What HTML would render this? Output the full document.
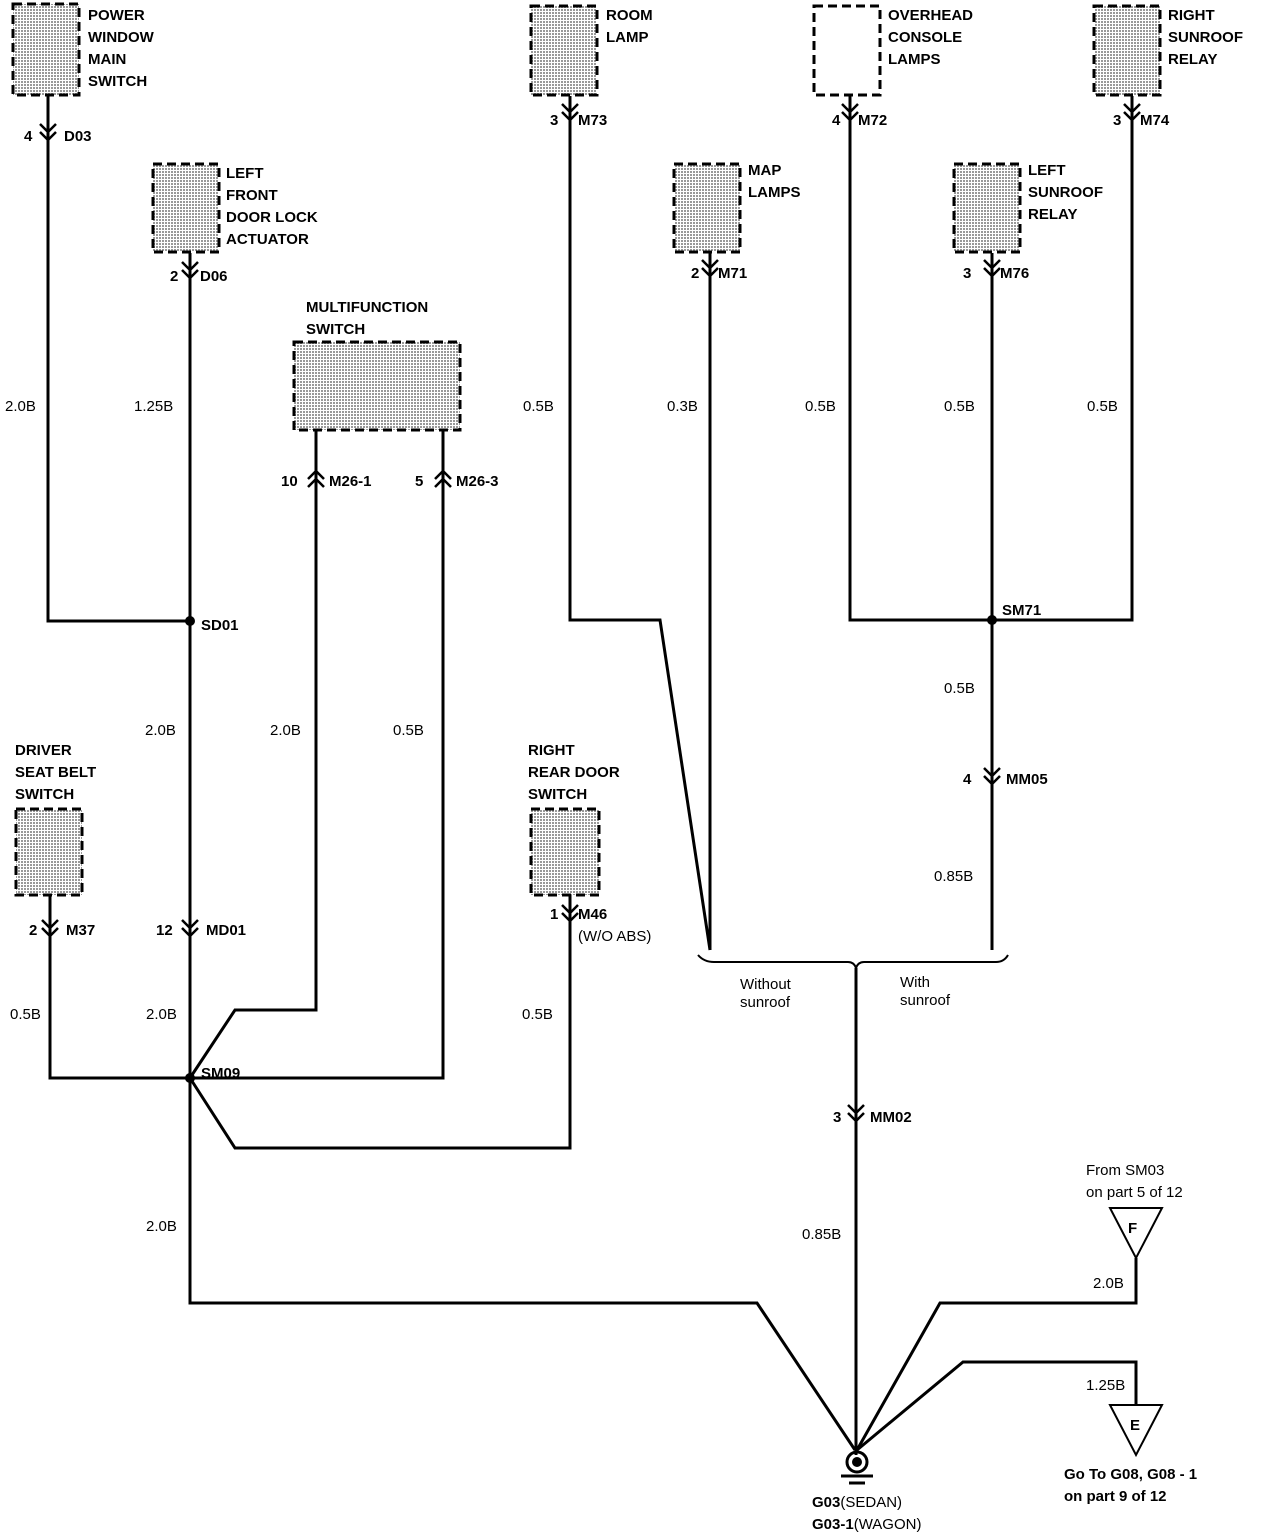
<!DOCTYPE html>
<html><head><style>
body{margin:0;background:#fff}
svg{display:block}
text{font-family:"Liberation Sans",sans-serif;font-size:15px;fill:#000}
.b{font-weight:bold;font-size:16px}
</style></head><body>
<svg width="1280" height="1536" viewBox="0 0 1280 1536" xmlns="http://www.w3.org/2000/svg">
<defs>
<pattern id="dots" width="3" height="3" patternUnits="userSpaceOnUse"><rect width="3" height="3" fill="#fff"/><rect width="2" height="2" fill="#999"/></pattern>
</defs>
<g stroke="#000" stroke-width="3" fill="url(#dots)" stroke-dasharray="9,5">
<rect x="13" y="4" width="66" height="91"/>
<rect x="153" y="164" width="66" height="88"/>
<rect x="294" y="342" width="166" height="88"/>
<rect x="16" y="809" width="66" height="86"/>
<rect x="531" y="809" width="68" height="86"/>
<rect x="531" y="6" width="66" height="89"/>
<rect x="674" y="164" width="66" height="88"/>
<rect x="814" y="6" width="66" height="89" fill="#fff"/>
<rect x="1094" y="6" width="66" height="89"/>
<rect x="954" y="164" width="66" height="88"/>
</g>
<g stroke="#000" stroke-width="3" fill="none">
<polyline points="48,96 48,621 190,621"/>
<polyline points="190,253 190,1303 757,1303 855,1450"/>
<polyline points="316,430 316,1010 235,1010 190,1078"/>
<polyline points="443,430 443,1078 190,1078"/>
<polyline points="50,895 50,1078 190,1078"/>
<polyline points="570,895 570,1148 235,1148 190,1078"/>
<polyline points="570,96 570,620 660,620 710,950"/>
<polyline points="710,253 710,950"/>
<polyline points="850,96 850,620 1132,620 1132,96"/>
<polyline points="992,253 992,950"/>
<polyline points="856,968 856,1455"/>
<polyline points="1136,1258 1136,1303 940,1303 857,1450"/>
<polyline points="1136,1405 1136,1362 963,1362 857,1450"/>
<path d="M698,955 Q704,962 714,962 L848,962 Q854,962 856,968 Q858,962 864,962 L996,962 Q1004,962 1008,955" stroke-width="2"/>
<polygon points="1110,1208 1162,1208 1136,1258" stroke-width="2"/>
<polygon points="1110,1405 1162,1405 1136,1455" stroke-width="2"/>
<circle cx="857" cy="1462" r="10" stroke-width="3"/>
<line x1="841" y1="1476" x2="873" y2="1476"/>
<line x1="849" y1="1483" x2="865" y2="1483"/>
</g>
<circle cx="857" cy="1462" r="5" fill="#000"/>
<circle cx="190" cy="621" r="5" fill="#000"/>
<circle cx="992" cy="620" r="5" fill="#000"/>
<circle cx="190" cy="1078" r="5" fill="#000"/>
<g stroke="#000" stroke-width="2.5" fill="none">
<path d="M40,124 L48,132 L56,124 M40,132 L48,140 L56,132"/>
<path d="M182,262 L190,270 L198,262 M182,270 L190,278 L198,270"/>
<path d="M562,104 L570,112 L578,104 M562,112 L570,120 L578,112"/>
<path d="M842,104 L850,112 L858,104 M842,112 L850,120 L858,112"/>
<path d="M1124,104 L1132,112 L1140,104 M1124,112 L1132,120 L1140,112"/>
<path d="M702,260 L710,268 L718,260 M702,268 L710,276 L718,268"/>
<path d="M984,260 L992,268 L1000,260 M984,268 L992,276 L1000,268"/>
<path d="M984,768 L992,776 L1000,768 M984,776 L992,784 L1000,776"/>
<path d="M42,920 L50,928 L58,920 M42,928 L50,936 L58,928"/>
<path d="M182,920 L190,928 L198,920 M182,928 L190,936 L198,928"/>
<path d="M562,905 L570,913 L578,905 M562,913 L570,921 L578,913"/>
<path d="M848,1105 L856,1113 L864,1105 M848,1113 L856,1121 L864,1113"/>
<path d="M308,479 L316,471 L324,479 M308,487 L316,479 L324,487"/>
<path d="M435,479 L443,471 L451,479 M435,487 L443,479 L451,487"/>
</g>
<g class="b">
<text x="88" y="20">POWER</text><text x="88" y="42">WINDOW</text><text x="88" y="64">MAIN</text><text x="88" y="86">SWITCH</text>
<text x="226" y="178">LEFT</text><text x="226" y="200">FRONT</text><text x="226" y="222">DOOR LOCK</text><text x="226" y="244">ACTUATOR</text>
<text x="306" y="312">MULTIFUNCTION</text><text x="306" y="334">SWITCH</text>
<text x="15" y="755">DRIVER</text><text x="15" y="777">SEAT BELT</text><text x="15" y="799">SWITCH</text>
<text x="528" y="755">RIGHT</text><text x="528" y="777">REAR DOOR</text><text x="528" y="799">SWITCH</text>
<text x="606" y="20">ROOM</text><text x="606" y="42">LAMP</text>
<text x="748" y="175">MAP</text><text x="748" y="197">LAMPS</text>
<text x="888" y="20">OVERHEAD</text><text x="888" y="42">CONSOLE</text><text x="888" y="64">LAMPS</text>
<text x="1168" y="20">RIGHT</text><text x="1168" y="42">SUNROOF</text><text x="1168" y="64">RELAY</text>
<text x="1028" y="175">LEFT</text><text x="1028" y="197">SUNROOF</text><text x="1028" y="219">RELAY</text>
<text x="24" y="141">4</text><text x="64" y="141">D03</text>
<text x="170" y="281">2</text><text x="200" y="281">D06</text>
<text x="281" y="486">10</text><text x="329" y="486">M26-1</text>
<text x="415" y="486">5</text><text x="456" y="486">M26-3</text>
<text x="550" y="125">3</text><text x="578" y="125">M73</text>
<text x="832" y="125">4</text><text x="858" y="125">M72</text>
<text x="1113" y="125">3</text><text x="1140" y="125">M74</text>
<text x="691" y="278">2</text><text x="718" y="278">M71</text>
<text x="963" y="278">3</text><text x="1000" y="278">M76</text>
<text x="963" y="784">4</text><text x="1006" y="784">MM05</text>
<text x="29" y="935">2</text><text x="66" y="935">M37</text>
<text x="156" y="935">12</text><text x="206" y="935">MD01</text>
<text x="550" y="919">1</text><text x="578" y="919">M46</text>
<text x="833" y="1122">3</text><text x="870" y="1122">MM02</text>
<text x="201" y="630">SD01</text><text x="201" y="1078">SM09</text><text x="1002" y="615">SM71</text>
<text x="1128" y="1233" font-size="17">F</text><text x="1130" y="1430" font-size="17">E</text>
</g>
<g>
<text x="812" y="1507"><tspan font-weight="bold">G03</tspan>(SEDAN)</text>
<text x="812" y="1529"><tspan font-weight="bold">G03-1</tspan>(WAGON)</text>
<text x="5" y="411">2.0B</text><text x="134" y="411">1.25B</text>
<text x="523" y="411">0.5B</text><text x="667" y="411">0.3B</text><text x="805" y="411">0.5B</text><text x="944" y="411">0.5B</text><text x="1087" y="411">0.5B</text>
<text x="145" y="735">2.0B</text><text x="270" y="735">2.0B</text><text x="393" y="735">0.5B</text>
<text x="944" y="693">0.5B</text><text x="934" y="881">0.85B</text>
<text x="10" y="1019">0.5B</text><text x="146" y="1019">2.0B</text><text x="522" y="1019">0.5B</text>
<text x="146" y="1231">2.0B</text><text x="802" y="1239">0.85B</text>
<text x="1093" y="1288">2.0B</text><text x="1086" y="1390">1.25B</text>
<text x="578" y="941">(W/O ABS)</text>
<text x="740" y="989">Without</text><text x="740" y="1007">sunroof</text>
<text x="900" y="987">With</text><text x="900" y="1005">sunroof</text>
<text x="1086" y="1175">From SM03</text><text x="1086" y="1197">on part 5 of 12</text>
<text x="1064" y="1479" font-weight="bold">Go To G08, G08 - 1</text><text x="1064" y="1501" font-weight="bold">on part 9 of 12</text>
</g>
</svg>
</body></html>
